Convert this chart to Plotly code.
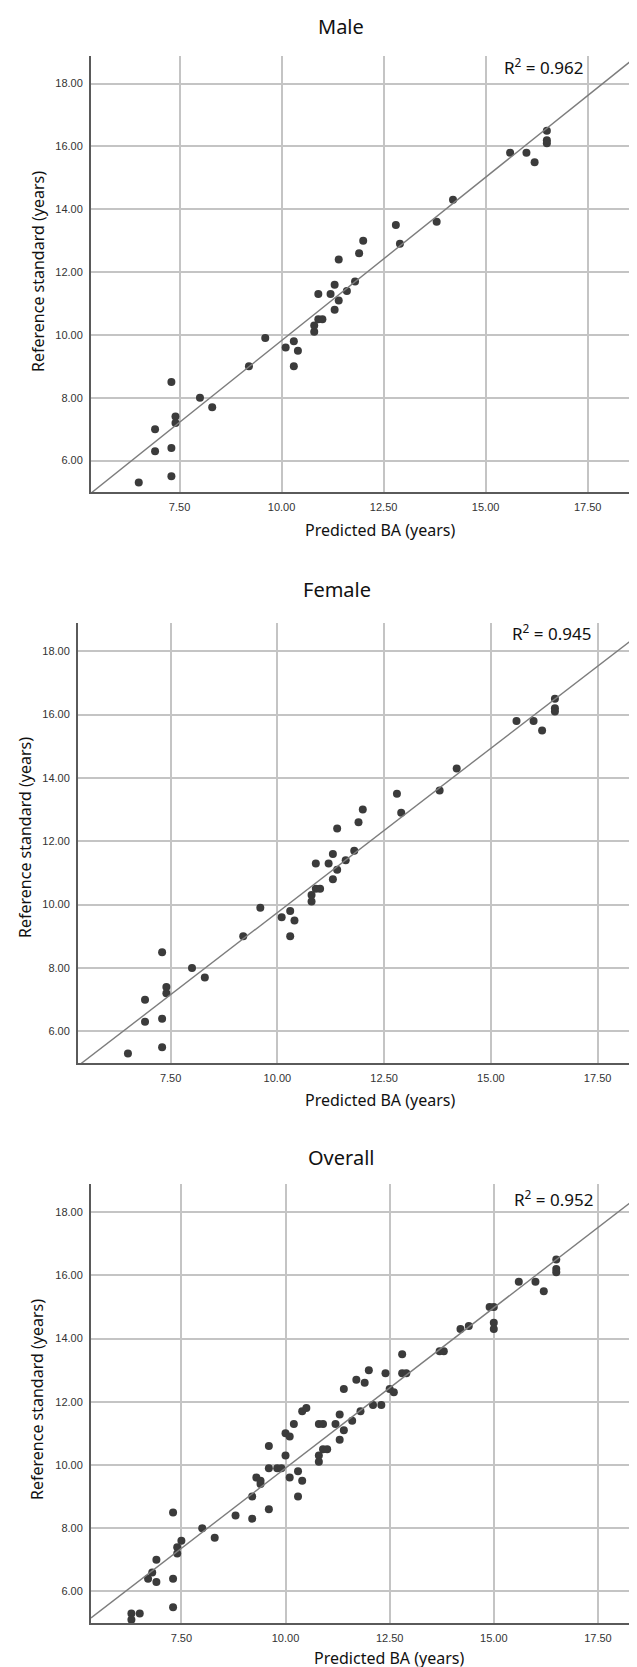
import plotly.graph_objects as go

W, H = 637, 1667

# ---------------- data ----------------
male_pred = [6.5, 6.9, 6.9, 7.3, 7.3, 7.3, 7.4, 7.4, 8.0, 8.3, 9.2, 9.6, 10.1, 10.3, 10.4, 10.3,
             10.8, 10.8, 10.9, 11.0, 10.9, 11.2, 11.3, 11.3, 11.4, 11.4, 11.6, 11.8, 11.9, 12.0,
             12.8, 12.9, 13.8, 14.2, 15.6, 16.0, 16.2, 16.5, 16.5, 16.5]
male_ref = [5.3, 6.3, 7.0, 5.5, 6.4, 8.5, 7.4, 7.2, 8.0, 7.7, 9.0, 9.9, 9.6, 9.8, 9.5, 9.0,
            10.1, 10.3, 10.5, 10.5, 11.3, 11.3, 11.6, 10.8, 11.1, 12.4, 11.4, 11.7, 12.6, 13.0,
            13.5, 12.9, 13.6, 14.3, 15.8, 15.8, 15.5, 16.5, 16.2, 16.1]
male_fit = [-0.58, 1.04]          # intercept, slope of the drawn fit line

female_pred = [6.5, 6.9, 6.9, 7.3, 7.3, 7.3, 7.4, 7.4, 8.0, 8.3, 9.2, 9.6, 10.1, 10.3, 10.4, 10.3,
               10.8, 10.8, 10.9, 11.0, 10.9, 11.2, 11.3, 11.3, 11.4, 11.4, 11.6, 11.8, 11.9, 12.0,
               12.8, 12.9, 13.8, 14.2, 15.6, 16.0, 16.2, 16.5, 16.5, 16.5]
female_ref = [5.3, 6.3, 7.0, 5.5, 6.4, 8.5, 7.4, 7.2, 8.0, 7.7, 9.0, 9.9, 9.6, 9.8, 9.5, 9.0,
              10.1, 10.3, 10.5, 10.5, 11.3, 11.3, 11.6, 10.8, 11.1, 12.4, 11.4, 11.7, 12.6, 13.0,
              13.5, 12.9, 13.6, 14.3, 15.8, 15.8, 15.5, 16.5, 16.2, 16.1]
female_fit = [-0.62, 1.037]

overall_pred = [6.3, 6.3, 6.5, 6.7, 6.8, 6.9, 6.9, 7.3, 7.3, 7.3, 7.4, 7.4, 7.5, 8.0, 8.3, 8.8,
                9.2, 9.2, 9.3, 9.4, 9.4, 9.6, 9.6, 9.6, 9.8, 9.9, 10.0, 10.0, 10.1, 10.1, 10.2,
                10.3, 10.3, 10.4, 10.5, 10.4, 10.8, 10.9, 10.8, 10.8, 10.9, 11.0, 11.2, 11.3,
                11.3, 11.4, 11.4, 11.6, 11.7, 11.8, 11.9, 12.0, 12.1, 12.3, 12.4, 12.5, 12.6,
                12.8, 12.8, 12.9, 13.7, 13.8, 14.2, 14.4, 14.9, 15.0, 15.0, 15.0, 15.6, 16.0,
                16.2, 16.5, 16.5, 16.5]
overall_ref = [5.3, 5.1, 5.3, 6.4, 6.6, 7.0, 6.3, 6.4, 5.5, 8.5, 7.4, 7.2, 7.6, 8.0, 7.7, 8.4,
               8.3, 9.0, 9.6, 9.5, 9.4, 8.6, 9.9, 10.6, 9.9, 9.9, 10.3, 11.0, 10.9, 9.6, 11.3,
               9.8, 9.0, 11.7, 11.8, 9.5, 11.3, 11.3, 10.3, 10.1, 10.5, 10.5, 11.3, 11.6,
               10.8, 11.1, 12.4, 11.4, 12.7, 11.7, 12.6, 13.0, 11.9, 11.9, 12.9, 12.4, 12.3,
               13.5, 12.9, 12.9, 13.6, 13.6, 14.3, 14.4, 15.0, 15.0, 14.5, 14.3, 15.8, 15.8,
               15.5, 16.5, 16.2, 16.1]
overall_fit = [-0.25, 1.015]

panel_titles = ["Male", "Female", "Overall"]
r2_labels = ["0.962", "0.945", "0.952"]
x_ticks = [7.5, 10.0, 12.5, 15.0, 17.5]
y_ticks = [6, 8, 10, 12, 14, 16, 18]
x_title = "Predicted BA (years)"
y_title = "Reference standard (years)"

# ---------------- layout geometry (pixels) ----------------
geom = [
    dict(l=83, r=627, t=48, b=484, xr=[5.33, 18.66], yr=[5.0, 18.88],
         title=(333, 19), xlab=(372, 522), ylab=(30, 264), r2=(577, 59)),
    dict(l=70, r=637, t=615, b=1055, xr=[5.33, 18.61], yr=[5.0, 18.89],
         title=(329, 581), xlab=(372, 1092), ylab=(17, 830), r2=(585, 624)),
    dict(l=83, r=637, t=1176, b=1615, xr=[5.33, 18.63], yr=[5.0, 18.89],
         title=(333, 1149), xlab=(381, 1650), ylab=(29, 1392), r2=(587, 1190)),
]

series = [(male_pred, male_ref, male_fit),
          (female_pred, female_ref, female_fit),
          (overall_pred, overall_ref, overall_fit)]

TEXT_FONT = "Noto Sans"
TICK_FONT = "Liberation Sans"
GRID = "#c4c4c4"
AXIS = "#5a5a5a"
DOT = "#3b3b3b"
LINE = "#7d7d7d"

fig = go.Figure()
layout = dict(width=W, height=H, margin=dict(l=0, r=0, t=0, b=0),
              paper_bgcolor="white", plot_bgcolor="white", showlegend=False,
              annotations=[])

def px_x(p):
    return p / W

def px_y(p):
    return 1 - p / H

for i, ((xs, ys, fit), g) in enumerate(zip(series, geom)):
    n = "" if i == 0 else str(i + 1)
    xa, ya = "x" + n, "y" + n
    fig.add_trace(go.Scatter(x=xs, y=ys, mode="markers", xaxis=xa, yaxis=ya,
                             marker=dict(size=8, color=DOT, line=dict(width=0)),
                             hoverinfo="skip"))
    x0, x1 = g["xr"]
    fig.add_trace(go.Scatter(x=[x0, x1], y=[fit[0] + fit[1] * x0, fit[0] + fit[1] * x1],
                             mode="lines", xaxis=xa, yaxis=ya,
                             line=dict(color=LINE, width=1.4), hoverinfo="skip"))
    layout["xaxis" + n] = dict(
        domain=[px_x(g["l"]), px_x(g["r"])], range=g["xr"], anchor=ya,
        tickvals=x_ticks, ticktext=[f"{v:.2f}" for v in x_ticks],
        showgrid=True, gridcolor=GRID, gridwidth=1.5, zeroline=False,
        showline=True, linecolor=AXIS, linewidth=2, ticks="",
        tickfont=dict(family=TICK_FONT, size=11, color="#333333"),
        ticklabelstandoff=4, fixedrange=True)
    layout["yaxis" + n] = dict(
        domain=[px_y(g["b"]), px_y(g["t"])], range=g["yr"], anchor=xa,
        tickvals=y_ticks, ticktext=[f"{v:.2f}" for v in y_ticks],
        showgrid=True, gridcolor=GRID, gridwidth=1.5, zeroline=False,
        showline=True, linecolor=AXIS, linewidth=2, ticks="",
        tickfont=dict(family=TICK_FONT, size=11, color="#333333"),
        ticklabelstandoff=4, fixedrange=True)
    ann = layout["annotations"]
    ann.append(dict(text=panel_titles[i], x=px_x(g["title"][0]), y=px_y(g["title"][1]),
                    xref="paper", yref="paper", xanchor="center", yanchor="middle",
                    showarrow=False, font=dict(family=TEXT_FONT, size=20, color="#111111")))
    ann.append(dict(text=x_title, x=px_x(g["xlab"][0]), y=px_y(g["xlab"][1]),
                    xref="paper", yref="paper", xanchor="center", yanchor="middle",
                    showarrow=False, font=dict(family=TEXT_FONT, size=16, color="#111111")))
    ann.append(dict(text=y_title, x=px_x(g["ylab"][0]), y=px_y(g["ylab"][1]),
                    xref="paper", yref="paper", xanchor="center", yanchor="middle",
                    textangle=-90, showarrow=False,
                    font=dict(family=TEXT_FONT, size=16, color="#111111")))
    ann.append(dict(text="R<sup>2</sup> = " + r2_labels[i], x=px_x(g["r2"][0]), y=px_y(g["r2"][1]),
                    xref="paper", yref="paper", xanchor="right", yanchor="middle",
                    showarrow=False, font=dict(family=TEXT_FONT, size=17, color="#111111")))

fig.update_layout(**layout)
fig.write_html("out.html")
